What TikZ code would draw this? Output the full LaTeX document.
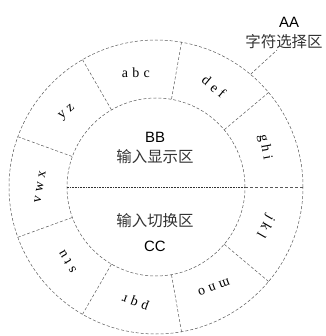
\documentclass[tikz,border=0pt]{standalone}
\usepackage{fontspec}
\setmainfont{Liberation Serif}
\newfontfamily\cjk{Noto Sans CJK SC}
\newfontfamily\sansf{Liberation Sans}
\newfontfamily\spaced[LetterSpace=30]{Liberation Serif}
\begin{document}
\begin{tikzpicture}[x=1bp,y=1bp,
  ring/.style={circle, draw=black!65, densely dashed, line width=0.5bp, inner sep=0pt},
  sep/.style={draw=black!65, densely dashed, line width=0.5bp},
  midline/.style={draw=black!80, densely dotted, line width=0.6bp},
  lbl/.style={font=\fontsize{14}{14}\spaced, inner sep=0pt},
  zone/.style={font=\fontsize{15.5}{16}\cjk, text=black!80, inner sep=0pt},
  captxt/.style={font=\fontsize{15}{15}\sansf, inner sep=0pt}]
\useasboundingbox (0,0) rectangle (326,336);
\coordinate (c) at (156,149);
\node[ring, minimum size=294bp] (outer) at (c) {};
\node[ring, minimum size=178bp] (inner) at (c) {};
\foreach \a in {40,80,...,320} \draw[sep] (inner.\a) -- (outer.\a);
\draw[midline] (inner.180) -- (inner.0);
\draw[sep] (inner.0) -- (outer.0);
\foreach \t/\a [count=\i] in {ghi/20, def/60, abc/100, yz/140, vwx/180,
    stu/220, pqr/260, mno/300, jkl/340}
  \node[lbl, rotate=\a-100] (s\i) at ([shift={(\a:116)}]c) {\t};
\node[captxt] (bb) at (155,199) {BB};
\node[zone] (disp) at (155,179) {输入显示区};
\node[zone] (swit) at (155,115) {输入切换区};
\node[captxt] (cc) at (155,90) {CC};
\node[captxt] (aa) at (289,314) {AA};
\node[zone] (sel) at (284,294) {字符选择区};
\coordinate (lead) at (277,286);
\draw[sep] (outer.50) -- (lead);
\end{tikzpicture}
\end{document}
